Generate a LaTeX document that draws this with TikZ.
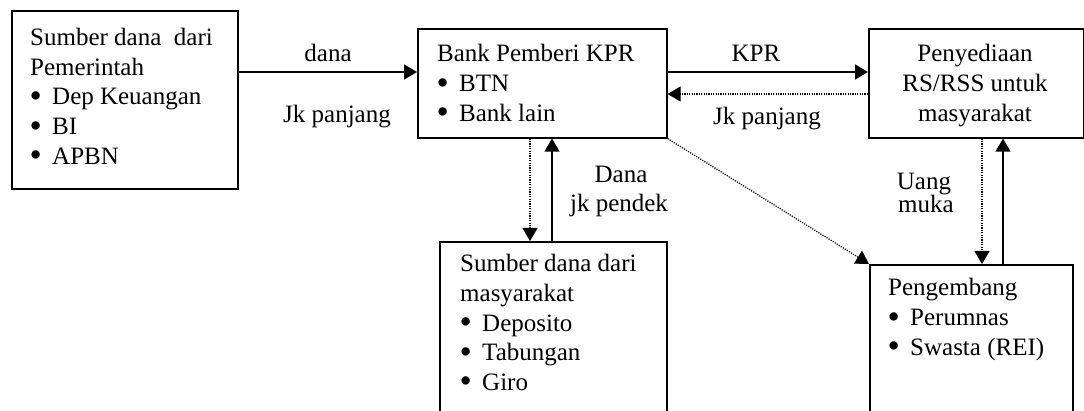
\documentclass[tikz,border=0pt]{standalone}
\usepackage{graphicx}
\usepackage{fontspec}
\setmainfont{Liberation Serif}
\usetikzlibrary{arrows.meta}
% bullet item with a fixed hanging indent
\newcommand{\itm}{\makebox[22pt][l]{\hspace{-0.5pt}\smash{\raisebox{-2.5pt}{\scalebox{1.4}{\textbullet}}}}}
% several lines, first baseline on the node's base anchor
\newcommand{\stack}[2][l]{\begin{tabular}[t]{@{}#1@{}}#2\end{tabular}}

\begin{document}
\begin{tikzpicture}[x=1pt,y=-1pt,
  font=\fontsize{25}{29.7}\selectfont,
  box/.style={draw, line width=1.6pt, rectangle, inner sep=0pt, anchor=north west},
  txt/.style={inner sep=0pt, anchor=base west},
  lbl/.style={inner sep=0pt, anchor=base},
  flow/.style={line width=1.5pt, -{Triangle[length=13pt,width=15pt]}},
  back/.style={line width=1.2pt, dash pattern=on 1.2pt off 1.2pt,
               -{Triangle[length=13pt,width=15pt]}}]
\useasboundingbox (0,0) rectangle (1084,411);
\clip (0,0) rectangle (1084,411);

% boxes
\node[box, minimum width=226pt, minimum height=178pt] (A) at (11,10) {};
\node[box, minimum width=249pt, minimum height=109pt] (B) at (417,28) {};
\node[box, minimum width=214.5pt, minimum height=109pt] (C) at (868,28) {};
\node[box, minimum width=227pt, minimum height=200pt] (D) at (439,241) {};
\node[box, minimum width=203pt, minimum height=200pt] (E) at (869,264) {};

% box texts
\node[txt] (At) at (30,45.5) {\stack{Sumber dana\ \ dari\\Pemerintah\\\itm Dep Keuangan\\\itm BI\\\itm APBN}};
\node[txt] (Bt) at (437,62) {\stack{Bank Pemberi KPR\\\itm BTN\\\itm Bank lain}};
\node[lbl] (Ct) at (975,62) {\stack[c]{Penyediaan\\RS/RSS untuk\\masyarakat}};
\node[txt] (Dt) at (460,271.7) {\stack{Sumber dana dari\\masyarakat\\\itm Deposito\\\itm Tabungan\\\itm Giro}};
\node[txt] (Et) at (888,296) {\stack{Pengembang\\\itm Perumnas\\\itm Swasta (REI)}};

% connector labels
\node[lbl] (l1) at (328,61.7) {dana};
\node[lbl] (l2) at (337,123) {Jk panjang};
\node[lbl] (l3) at (756,61.7) {KPR};
\node[lbl] (l4) at (767,125) {Jk panjang};
\node[lbl] (l5) at (621,183) {Dana};
\node[lbl] (l6) at (619,211.7) {jk pendek};
\node[lbl] (l7) at (924,190) {Uang};
\node[lbl] (l8) at (926,212.7) {muka};

% connector lanes
\coordinate (h1) at (0,72);
\coordinate (h2) at (0,94);
\coordinate (v1) at (530,0);
\coordinate (v2) at (552,0);
\coordinate (v3) at (982,0);
\coordinate (v4) at (1003,0);

% connectors
\draw[flow] (A.east |- h1) -- (B.west |- h1);
\draw[flow] (B.east |- h1) -- (C.west |- h1);
\draw[back] (C.west |- h2) -- (B.east |- h2);
\draw[back] (v1 |- B.south) -- (v1 |- D.north);
\draw[flow] (v2 |- D.north) -- (v2 |- B.south);
\draw[back] (v3 |- C.south) -- (v3 |- E.north);
\draw[flow] (v4 |- E.north) -- (v4 |- C.south);
\draw[back] (B.south east) -- (E.north west);
\end{tikzpicture}
\end{document}
